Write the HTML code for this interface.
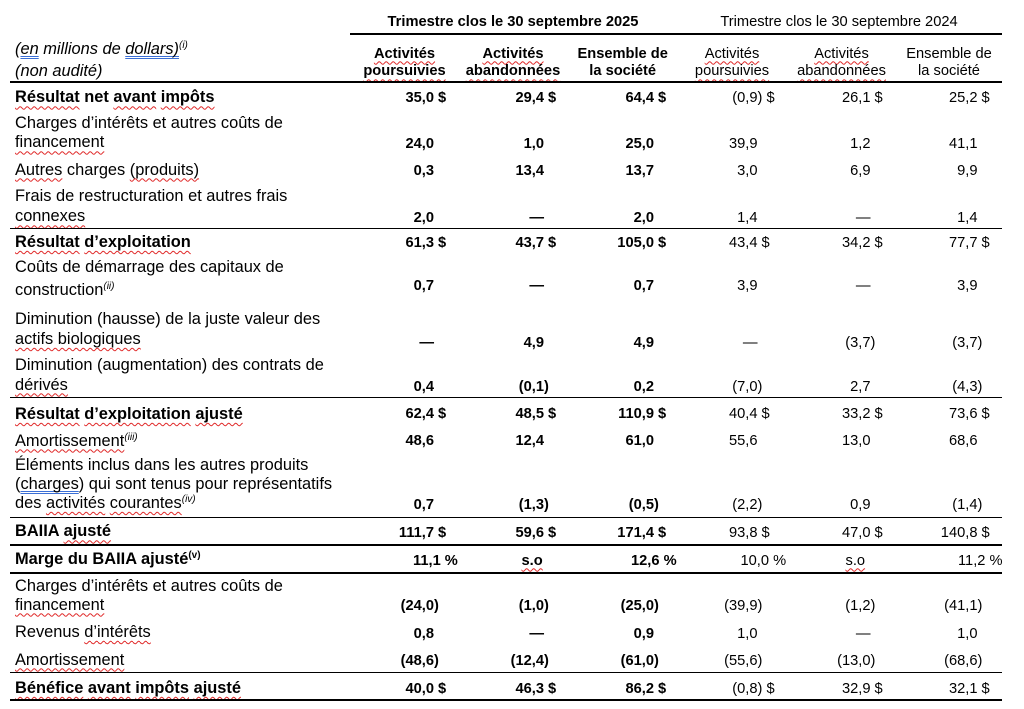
<!DOCTYPE html>
<html lang="fr">
<head>
<meta charset="utf-8">
<style>
  html,body{margin:0;padding:0;background:#fff;}
  body{width:1024px;height:709px;position:relative;overflow:hidden;
       font-family:"Liberation Sans",Arial,sans-serif;color:#000;}
  .l{position:absolute;left:15px;white-space:nowrap;font-size:16.4px;line-height:19px;}
  .n{position:absolute;white-space:nowrap;font-size:14.67px;line-height:17px;text-align:right;}
  .f{position:absolute;white-space:nowrap;font-size:14.67px;line-height:17px;}
  .h{position:absolute;white-space:nowrap;font-size:14.67px;line-height:17px;text-align:center;width:140px;}
  .b{font-weight:bold;}
  .d{margin-right:-12.23px;}
  .p{margin-right:-4.89px;}
  .q{margin-right:-17.12px;}
  .w{text-decoration-line:underline;text-decoration-style:wavy;text-decoration-color:#e02828;
     text-decoration-thickness:1px;text-underline-offset:3px;text-decoration-skip-ink:none;}
  .u{text-decoration-line:underline;text-decoration-style:double;text-decoration-color:#3b6fd6;
     text-decoration-thickness:1px;text-underline-offset:2px;text-decoration-skip-ink:none;}
  sup{font-size:10px;line-height:0;vertical-align:6px;font-style:italic;}
  sup.r{font-style:normal;font-weight:bold;}
  .ln{position:absolute;background:#000;}
  .c1{right:590px;} .c2{right:480px;} .c3{right:370px;}
  .c4{right:266.5px;} .c5{right:153.5px;} .c6{right:46.5px;}
</style>
</head>
<body>

<!-- Period headers -->
<div class="f b" style="left:363px;top:14.4px;width:300px;text-align:center;">Trimestre clos le 30 septembre 2025</div>
<div class="f" style="left:689px;top:14.4px;width:300px;text-align:center;">Trimestre clos le 30 septembre 2024</div>
<div class="ln" style="left:350px;top:33px;width:652px;height:2px;"></div>

<!-- Left header -->
<div class="l" style="top:39.7px;font-style:italic;">(<span class="u">en</span> millions de <span class="u">dollars)</span><sup>(i)</sup></div>
<div class="l" style="top:61.7px;font-style:italic;">(non audité)</div>

<!-- Column headers -->
<div class="h b" style="left:334.5px;top:45.7px;"><span class="w">Activités</span></div>
<div class="h b" style="left:334.5px;top:63.4px;"><span class="w">poursuivies</span></div>
<div class="h b" style="left:443px;top:45.7px;"><span class="w">Activités</span></div>
<div class="h b" style="left:443px;top:63.4px;"><span class="w">abandonnées</span></div>
<div class="h b" style="left:552.7px;top:45.7px;">Ensemble de</div>
<div class="h b" style="left:552.7px;top:63.4px;">la société</div>
<div class="h" style="left:662px;top:45.7px;"><span class="w">Activités</span></div>
<div class="h" style="left:662px;top:63.4px;"><span class="w">poursuivies</span></div>
<div class="h" style="left:771.5px;top:45.7px;"><span class="w">Activités</span></div>
<div class="h" style="left:771.5px;top:63.4px;"><span class="w">abandonnées</span></div>
<div class="h" style="left:879px;top:45.7px;">Ensemble de</div>
<div class="h" style="left:879px;top:63.4px;">la société</div>
<div class="ln" style="left:10px;top:81px;width:992px;height:2px;"></div>

<!-- R1 -->
<div class="l b" style="top:88.4px;"><span class="w">Résultat</span> net <span class="w">avant</span> <span class="w">impôts</span></div>
<div class="n b c1" style="top:90.2px;">35,0<span class="d"> $</span></div>
<div class="n b c2" style="top:90.2px;">29,4<span class="d"> $</span></div>
<div class="n b c3" style="top:90.2px;">64,4<span class="d"> $</span></div>
<div class="n c4" style="top:90.2px;">(0,9<span class="q">) $</span></div>
<div class="n c5" style="top:90.2px;">26,1<span class="d"> $</span></div>
<div class="n c6" style="top:90.2px;">25,2<span class="d"> $</span></div>

<!-- R2 -->
<div class="l" style="top:114px;">Charges d’intérêts et autres coûts de</div>
<div class="l" style="top:133.4px;"><span class="w">financement</span></div>
<div class="n b c1" style="top:135.7px;">24,0</div>
<div class="n b c2" style="top:135.7px;">1,0</div>
<div class="n b c3" style="top:135.7px;">25,0</div>
<div class="n c4" style="top:135.7px;">39,9</div>
<div class="n c5" style="top:135.7px;">1,2</div>
<div class="n c6" style="top:135.7px;">41,1</div>

<!-- R3 -->
<div class="l" style="top:160.7px;"><span class="w">Autres</span> charges <span class="w">(produits)</span></div>
<div class="n b c1" style="top:163.4px;">0,3</div>
<div class="n b c2" style="top:163.4px;">13,4</div>
<div class="n b c3" style="top:163.4px;">13,7</div>
<div class="n c4" style="top:163.4px;">3,0</div>
<div class="n c5" style="top:163.4px;">6,9</div>
<div class="n c6" style="top:163.4px;">9,9</div>

<!-- R4 -->
<div class="l" style="top:186.7px;">Frais de restructuration et autres frais</div>
<div class="l" style="top:207.4px;"><span class="w">connexes</span></div>
<div class="n b c1" style="top:210px;">2,0</div>
<div class="n b c2" style="top:210px;">—</div>
<div class="n b c3" style="top:210px;">2,0</div>
<div class="n c4" style="top:210px;">1,4</div>
<div class="n c5" style="top:210px;">—</div>
<div class="n c6" style="top:210px;">1,4</div>
<div class="ln" style="left:10px;top:228px;width:992px;height:1px;"></div>

<!-- R5 -->
<div class="l b" style="top:233px;"><span class="w">Résultat</span> <span class="w">d’exploitation</span></div>
<div class="n b c1" style="top:235px;">61,3<span class="d"> $</span></div>
<div class="n b c2" style="top:235px;">43,7<span class="d"> $</span></div>
<div class="n b c3" style="top:235px;">105,0<span class="d"> $</span></div>
<div class="n c4" style="top:235px;">43,4<span class="d"> $</span></div>
<div class="n c5" style="top:235px;">34,2<span class="d"> $</span></div>
<div class="n c6" style="top:235px;">77,7<span class="d"> $</span></div>

<!-- R6 -->
<div class="l" style="top:258.4px;">Coûts de démarrage des capitaux de</div>
<div class="l" style="top:280.7px;">construction<sup>(ii)</sup></div>
<div class="n b c1" style="top:278.4px;">0,7</div>
<div class="n b c2" style="top:278.4px;">—</div>
<div class="n b c3" style="top:278.4px;">0,7</div>
<div class="n c4" style="top:278.4px;">3,9</div>
<div class="n c5" style="top:278.4px;">—</div>
<div class="n c6" style="top:278.4px;">3,9</div>

<!-- R7 -->
<div class="l" style="top:310px;">Diminution (hausse) de la juste valeur des</div>
<div class="l" style="top:330px;"><span class="w">actifs biologiques</span></div>
<div class="n b c1" style="top:334.7px;">—</div>
<div class="n b c2" style="top:334.7px;">4,9</div>
<div class="n b c3" style="top:334.7px;">4,9</div>
<div class="n c4" style="top:334.7px;">—</div>
<div class="n c5" style="top:334.7px;">(3,7<span class="p">)</span></div>
<div class="n c6" style="top:334.7px;">(3,7<span class="p">)</span></div>

<!-- R8 -->
<div class="l" style="top:355.7px;">Diminution (augmentation) des contrats de</div>
<div class="l" style="top:375.7px;"><span class="w">dérivés</span></div>
<div class="n b c1" style="top:379.4px;">0,4</div>
<div class="n b c2" style="top:379.4px;">(0,1<span class="p">)</span></div>
<div class="n b c3" style="top:379.4px;">0,2</div>
<div class="n c4" style="top:379.4px;">(7,0<span class="p">)</span></div>
<div class="n c5" style="top:379.4px;">2,7</div>
<div class="n c6" style="top:379.4px;">(4,3<span class="p">)</span></div>
<div class="ln" style="left:10px;top:397px;width:992px;height:1px;"></div>

<!-- R9 -->
<div class="l b" style="top:405px;"><span class="w">Résultat</span> <span class="w">d’exploitation</span> <span class="w">ajusté</span></div>
<div class="n b c1" style="top:406px;">62,4<span class="d"> $</span></div>
<div class="n b c2" style="top:406px;">48,5<span class="d"> $</span></div>
<div class="n b c3" style="top:406px;">110,9<span class="d"> $</span></div>
<div class="n c4" style="top:406px;">40,4<span class="d"> $</span></div>
<div class="n c5" style="top:406px;">33,2<span class="d"> $</span></div>
<div class="n c6" style="top:406px;">73,6<span class="d"> $</span></div>

<!-- R10 -->
<div class="l" style="top:431.7px;"><span class="w">Amortissement</span><sup>(iii)</sup></div>
<div class="n b c1" style="top:433.4px;">48,6</div>
<div class="n b c2" style="top:433.4px;">12,4</div>
<div class="n b c3" style="top:433.4px;">61,0</div>
<div class="n c4" style="top:433.4px;">55,6</div>
<div class="n c5" style="top:433.4px;">13,0</div>
<div class="n c6" style="top:433.4px;">68,6</div>

<!-- R11 -->
<div class="l" style="top:455.7px;">Éléments inclus dans les autres produits</div>
<div class="l" style="top:475px;">(<span class="u">charges</span>) qui sont tenus pour représentatifs</div>
<div class="l" style="top:494px;">des <span class="w">activités</span> <span class="w">courantes</span><sup>(iv)</sup></div>
<div class="n b c1" style="top:497.4px;">0,7</div>
<div class="n b c2" style="top:497.4px;">(1,3<span class="p">)</span></div>
<div class="n b c3" style="top:497.4px;">(0,5<span class="p">)</span></div>
<div class="n c4" style="top:497.4px;">(2,2<span class="p">)</span></div>
<div class="n c5" style="top:497.4px;">0,9</div>
<div class="n c6" style="top:497.4px;">(1,4<span class="p">)</span></div>
<div class="ln" style="left:10px;top:517px;width:992px;height:1px;"></div>

<!-- R12 -->
<div class="l b" style="top:522.4px;">BAIIA <span class="w">ajusté</span></div>
<div class="n b c1" style="top:525px;">111,7<span class="d"> $</span></div>
<div class="n b c2" style="top:525px;">59,6<span class="d"> $</span></div>
<div class="n b c3" style="top:525px;">171,4<span class="d"> $</span></div>
<div class="n c4" style="top:525px;">93,8<span class="d"> $</span></div>
<div class="n c5" style="top:525px;">47,0<span class="d"> $</span></div>
<div class="n c6" style="top:525px;">140,8<span class="d"> $</span></div>
<div class="ln" style="left:10px;top:544px;width:992px;height:2px;"></div>

<!-- R13 -->
<div class="l b" style="top:550px;">Marge du BAIIA ajusté<sup class="r">(v)</sup></div>
<div class="f b" style="left:413px;top:552.7px;">11,1 %</div>
<div class="f b" style="left:521.5px;top:552.7px;"><span class="w">s.o</span></div>
<div class="f b" style="left:631px;top:552.7px;">12,6 %</div>
<div class="f" style="left:740.5px;top:552.7px;">10,0 %</div>
<div class="f" style="left:845.5px;top:552.7px;"><span class="w">s.o</span></div>
<div class="f" style="left:958px;top:552.7px;">11,2 %</div>
<div class="ln" style="left:10px;top:572px;width:992px;height:2px;"></div>

<!-- R14 -->
<div class="l" style="top:576.7px;">Charges d’intérêts et autres coûts de</div>
<div class="l" style="top:595.7px;"><span class="w">financement</span></div>
<div class="n b c1" style="top:598.4px;">(24,0<span class="p">)</span></div>
<div class="n b c2" style="top:598.4px;">(1,0<span class="p">)</span></div>
<div class="n b c3" style="top:598.4px;">(25,0<span class="p">)</span></div>
<div class="n c4" style="top:598.4px;">(39,9<span class="p">)</span></div>
<div class="n c5" style="top:598.4px;">(1,2<span class="p">)</span></div>
<div class="n c6" style="top:598.4px;">(41,1<span class="p">)</span></div>

<!-- R15 -->
<div class="l" style="top:623px;">Revenus <span class="w">d’intérêts</span></div>
<div class="n b c1" style="top:625.7px;">0,8</div>
<div class="n b c2" style="top:625.7px;">—</div>
<div class="n b c3" style="top:625.7px;">0,9</div>
<div class="n c4" style="top:625.7px;">1,0</div>
<div class="n c5" style="top:625.7px;">—</div>
<div class="n c6" style="top:625.7px;">1,0</div>

<!-- R16 -->
<div class="l" style="top:650.7px;"><span class="w">Amortissement</span></div>
<div class="n b c1" style="top:653.4px;">(48,6<span class="p">)</span></div>
<div class="n b c2" style="top:653.4px;">(12,4<span class="p">)</span></div>
<div class="n b c3" style="top:653.4px;">(61,0<span class="p">)</span></div>
<div class="n c4" style="top:653.4px;">(55,6<span class="p">)</span></div>
<div class="n c5" style="top:653.4px;">(13,0<span class="p">)</span></div>
<div class="n c6" style="top:653.4px;">(68,6<span class="p">)</span></div>
<div class="ln" style="left:10px;top:672px;width:992px;height:1px;"></div>

<!-- R17 -->
<div class="l b" style="top:679px;"><span class="w">Bénéfice</span> <span class="w">avant</span> <span class="w">impôts</span> <span class="w">ajusté</span></div>
<div class="n b c1" style="top:681px;">40,0<span class="d"> $</span></div>
<div class="n b c2" style="top:681px;">46,3<span class="d"> $</span></div>
<div class="n b c3" style="top:681px;">86,2<span class="d"> $</span></div>
<div class="n c4" style="top:681px;">(0,8<span class="q">) $</span></div>
<div class="n c5" style="top:681px;">32,9<span class="d"> $</span></div>
<div class="n c6" style="top:681px;">32,1<span class="d"> $</span></div>
<div class="ln" style="left:10px;top:699px;width:992px;height:2px;"></div>

</body>
</html>
